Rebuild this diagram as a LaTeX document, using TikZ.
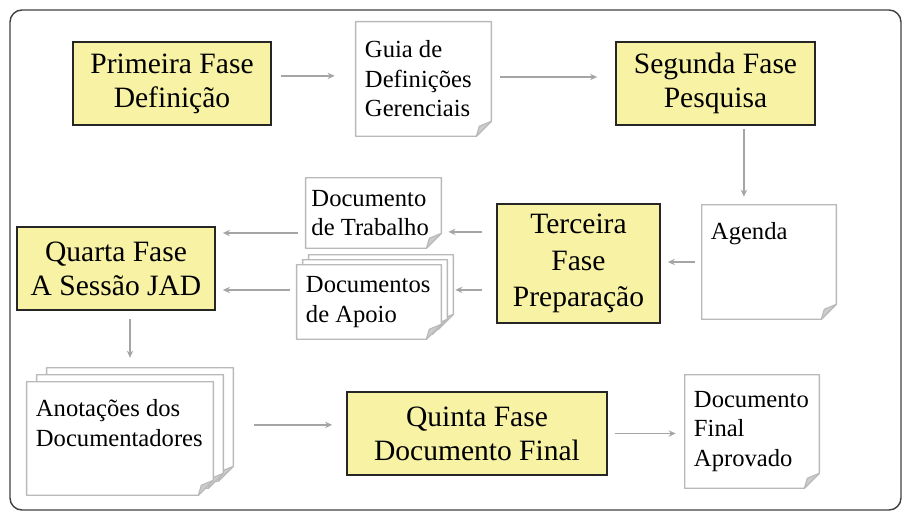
\documentclass[tikz,border=0pt]{standalone}
\usepackage{fontspec}
\setmainfont{Liberation Serif}
\usetikzlibrary{arrows.meta,backgrounds}

\definecolor{faseyellow}{RGB}{248,242,165}
\definecolor{sheetgray}{RGB}{185,185,185}
\definecolor{flowgray}{RGB}{165,165,165}

\tikzset{
  fase/.style={draw=black!85, line width=1.2pt, fill=faseyellow, align=center, inner sep=0pt,
    font=\fontsize{21}{24}\selectfont},
  doc/.style={align=flush left, inner xsep=0.225cm, inner ysep=0pt, text width=#1,
    font=\fontsize{17.5}{21}\selectfont},
  doclabel/.style={anchor=north west, inner sep=0pt, xshift=0.225cm, yshift=-0.44cm, align=flush left,
    font=\fontsize{17.5}{21}\selectfont},
  sheetline/.style={draw=sheetgray, line width=1pt, fill=white, line join=round},
  foldline/.style={draw=sheetgray, line width=0.8pt, fill=black!20, line join=round},
  flow/.style={draw=flowgray, line width=0.9pt, -{Stealth[length=5pt,width=4.5pt]}},
}

% folha com canto dobrado: no, deslocamento x, deslocamento y
\newcommand{\sheet}[3]{%
  \filldraw[sheetline] ([shift={(#2,#3)}]#1.north west) -- ([shift={(#2,#3)}]#1.north east)
    -- ([shift={(#2,{#3-15})}]#1.south east) -- ([shift={({#2-15},#3)}]#1.south east)
    -- ([shift={(#2,#3)}]#1.south west) -- cycle;
  \filldraw[foldline] ([shift={(#2,{#3-15})}]#1.south east) -- ([shift={({#2-15},#3)}]#1.south east)
    -- ([shift={({#2-12},{#3-10})}]#1.south east) -- cycle;
}

\begin{document}
\begin{tikzpicture}[x=0.025cm, y=-0.025cm]
    \useasboundingbox (0,0) rectangle (904,512);
    \draw[line width=1pt, black!75, rounded corners=0.3cm] (10,10) rectangle (901,510);

    % Fases
    \node[fase, minimum width=4.95cm, minimum height=2.075cm] (prim) at (172,83.5) {Primeira Fase\\Definição};
    \node[fase, minimum width=4.975cm, minimum height=2.075cm] (seg) at (715.5,83.5) {Segunda Fase\\Pesquisa};
    \node[fase, minimum width=4.075cm, minimum height=2.975cm, font=\fontsize{21}{26}\selectfont] (terc) at (578.5,263.5) {Terceira\\Fase\\Preparação};
    \node[fase, minimum width=4.95cm, minimum height=2.075cm] (quarta) at (116,268.5) {Quarta Fase\\A Sessão JAD};
    \node[fase, minimum width=6.5cm, minimum height=2.075cm] (quinta) at (477,433.5) {Quinta Fase\\Documento Final};

    % Documentos
    \node[doc=2.925cm, minimum height=2.85cm] (guia) at (423.5,79) {Guia de\\Definições\\Gerenciais};
    \node[doc=2.9cm, minimum height=2.85cm, label={[doclabel]north west:Agenda}] (agenda) at (769,262) {};
    \node[doc=3.1cm, inner xsep=0.14cm, minimum height=1.75cm] (trab) at (373.5,213) {Documento\\de Trabalho};
    \node[doc=3.15cm, minimum height=1.85cm] (apoio) at (369,302) {Documentos\\de Apoio};
    \node[doc=4.2cm, minimum height=2.825cm, label={[doclabel]north west:Anotações dos\\Documentadores}] (anot) at (120,438.5) {};
    \node[doc=2.9cm, minimum height=2.825cm] (final) at (752,431.5) {Documento\\Final\\Aprovado};

    % Folhas
    \begin{pgfonlayer}{background}
        \sheet{guia}{0}{0}
        \sheet{agenda}{0}{0}
        \sheet{trab}{0}{0}
        \sheet{apoio}{12}{-10}
        \sheet{apoio}{6}{-5}
        \sheet{apoio}{0}{0}
        \sheet{anot}{20}{-14}
        \sheet{anot}{10}{-7}
        \sheet{anot}{0}{0}
        \sheet{final}{0}{0}
    \end{pgfonlayer}

    % Ligações
    \draw[flow, shorten <=0.225cm, shorten >=0.525cm] ([yshift=0.19cm]prim.east) -- ([yshift=0.19cm]prim.east -| guia.west);
    \draw[flow, shorten <=0.225cm, shorten >=0.45cm] ([yshift=0.05cm]guia.east) -- ([yshift=0.05cm]guia.east -| seg.west);
    \draw[flow, shorten <=0.075cm, shorten >=0.2cm] ([xshift=0.71cm]seg.south) -- ([xshift=0.71cm]seg.south |- agenda.north);
    \draw[flow, shorten <=0.175cm, shorten >=0.175cm] (agenda.west) -- (agenda.west -| terc.east);
    \draw[flow, shorten <=0.35cm, shorten >=0.175cm] ([yshift=0.79cm]terc.west) -- ([yshift=0.79cm]terc.west -| trab.east);
    \draw[flow, shorten <=0.35cm, shorten >=0.35cm] ([yshift=-0.66cm]terc.west) -- ([yshift=-0.66cm]terc.west -| apoio.east);
    \draw[flow, shorten <=0.2cm, shorten >=0.175cm] ([yshift=-0.5cm]trab.west) -- ([yshift=-0.5cm]trab.west -| quarta.east);
    \draw[flow, shorten <=0.175cm, shorten >=0.175cm] ([yshift=0.3cm]apoio.west) -- ([yshift=0.3cm]apoio.west -| quarta.east);
    \draw[flow, shorten <=0.2cm, shorten >=0.6cm] ([xshift=0.35cm]quarta.south) -- ([xshift=0.35cm]quarta.south |- anot.north);
    \draw[flow, shorten <=1.025cm, shorten >=0.35cm] ([yshift=0.34cm]anot.east) -- ([yshift=0.34cm]anot.east -| quinta.west);
    \draw[flow, shorten <=0.175cm, shorten >=0.225cm] (quinta.east) -- (quinta.east -| final.west);
\end{tikzpicture}
\end{document}
